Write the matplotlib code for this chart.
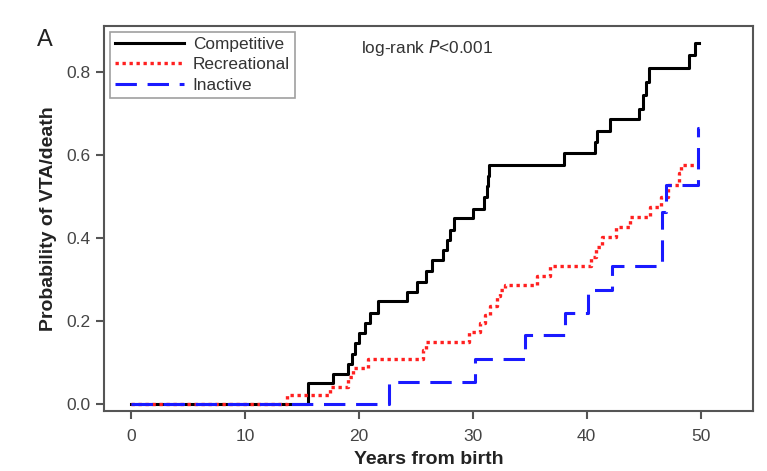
import matplotlib.pyplot as plt

plt.rcParams['font.family'] = ['Liberation Sans', 'DejaVu Sans']

# Competitive
t_comp = [0, 15.55, 17.75, 19.06, 19.4, 19.65, 20.0, 20.5, 21.0, 21.7, 24.2, 25.1, 25.9, 26.4,
          27.4, 27.7, 28.0, 28.3, 30.0, 31.0, 31.2, 31.3, 31.4, 38.0, 40.7, 40.9, 42.0, 44.6,
          44.9, 45.2, 45.5, 49.0, 49.5, 49.9]
p_comp = [0, 0.050, 0.072, 0.096, 0.120, 0.148, 0.170, 0.195, 0.220, 0.247, 0.271, 0.295, 0.320, 0.347,
          0.371, 0.395, 0.419, 0.447, 0.471, 0.500, 0.525, 0.550, 0.577, 0.604, 0.632, 0.658, 0.686, 0.712,
          0.745, 0.777, 0.809, 0.841, 0.871, 0.871]

# Recreational
t_rec = [0, 13.65, 17.46, 19.06, 19.5, 20.8, 25.6, 25.9, 29.7, 30.6, 31.05, 31.5, 32.1, 32.4, 32.8,
         35.6, 36.75, 40.4, 40.85, 41.3, 42.6, 43.8, 45.6, 46.55, 47.1, 48.1, 48.3, 49.9]
p_rec = [0, 0.022, 0.042, 0.064, 0.086, 0.108, 0.130, 0.150, 0.174, 0.194, 0.214, 0.236, 0.259, 0.275, 0.287,
         0.308, 0.333, 0.355, 0.379, 0.403, 0.427, 0.450, 0.475, 0.498, 0.528, 0.556, 0.576, 0.576]

# Inactive
t_inact = [0, 22.6, 30.2, 34.6, 38.1, 40.1, 42.2, 46.6, 47.0, 49.8, 49.9]
p_inact = [0, 0.054, 0.108, 0.165, 0.220, 0.275, 0.333, 0.463, 0.528, 0.664, 0.664]

fig = plt.figure(figsize=(7.67, 4.71), dpi=100)
ax = fig.add_axes([0.1356, 0.1274, 0.8461, 0.8174])

ax.step(t_comp, p_comp, where='post', color='black', lw=2.2, label='Competitive')
ax.step(t_rec, p_rec, where='post', color='#ff2020', lw=2.4, ls=(0, (1, 1.1)), label='Recreational')
ax.step(t_inact, p_inact, where='post', color='#1a1aff', lw=2.2, ls=(0, (7, 3.5)), label='Inactive')

ax.set_xlim(-2.4, 54.6)
ax.set_ylim(-0.017, 0.911)
ax.set_xticks([0, 10, 20, 30, 40, 50])
ax.set_yticks([0.0, 0.2, 0.4, 0.6, 0.8])
ax.set_yticklabels(['0.0', '0.2', '0.4', '0.6', '0.8'])
ax.tick_params(colors='#555555', labelcolor='#444444', labelsize=12.5, length=6, width=1.5)
ax.tick_params(axis='x', pad=7)
for s in ax.spines.values():
    s.set_color('#555555')
    s.set_linewidth(1.5)

ax.set_xlabel('Years from birth', fontsize=14, fontweight='bold', color='#222222', labelpad=5)
ax.set_ylabel('Probability of VTA/death', fontsize=14, fontweight='bold', color='#222222', labelpad=7)

leg = ax.legend(loc='upper left', fontsize=12.4, handlelength=4.0, borderpad=0.3, labelspacing=0.3,
                handletextpad=0.5, fancybox=False, borderaxespad=0.35)
leg.get_frame().set_edgecolor('#888888')
leg.get_frame().set_linewidth(1.2)
for txt in leg.get_texts():
    txt.set_color('#333333')

ax.text(0.396, 0.97, 'log-rank $\\it{P}$<0.001', transform=ax.transAxes, fontsize=12.4,
        color='#333333', va='top', ha='left')
fig.text(0.048, 0.915, 'A', fontsize=17, color='#222222', va='center')

plt.savefig('out.png', dpi=100)
